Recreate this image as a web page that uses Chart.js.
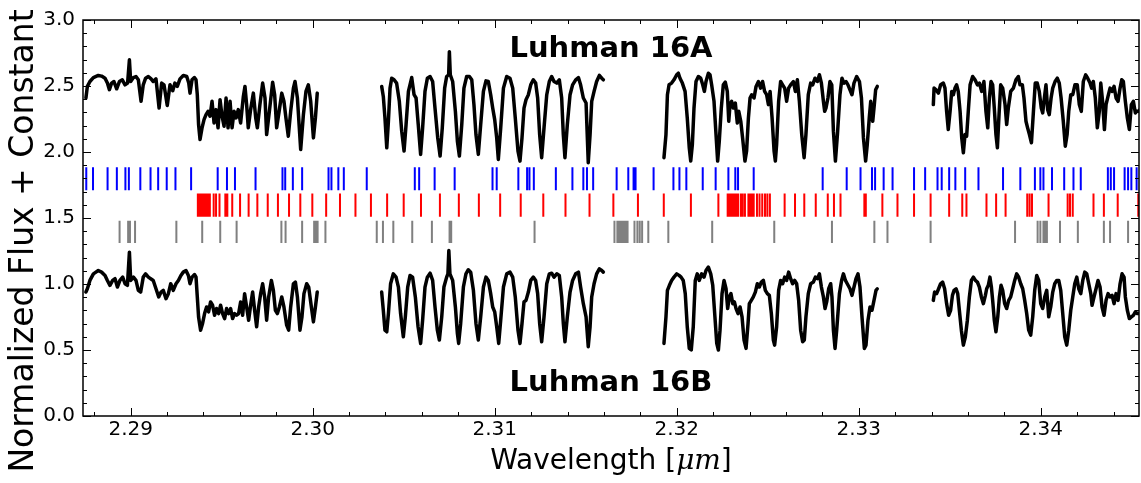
<!DOCTYPE html>
<html>
<head>
<meta charset="utf-8">
<script src="https://cdn.jsdelivr.net/npm/chart.js@4.4.1/dist/chart.umd.min.js"></script>
<style>
  body { margin: 0; background: #fff; }
  canvas { display: block; }
</style>
</head>
<body>
<canvas id="grafico" width="1141" height="483"></canvas>
<script>
// spectra: [wavelength (um), normalized flux + constant], one array per chip
const specA1 = [[2.28754,2.409],[2.28762,2.497],[2.28776,2.534],[2.28795,2.564],[2.28822,2.580],[2.28840,2.575],[2.28859,2.559],[2.28872,2.522],[2.28883,2.472],[2.28895,2.522],[2.28908,2.534],[2.28923,2.479],[2.28938,2.534],[2.28954,2.547],[2.28969,2.509],[2.28983,2.522],[2.28993,2.698],[2.29000,2.534],[2.29015,2.564],[2.29029,2.572],[2.29042,2.547],[2.29057,2.384],[2.29069,2.509],[2.29082,2.559],[2.29097,2.572],[2.29112,2.554],[2.29124,2.534],[2.29139,2.554],[2.29156,2.333],[2.29170,2.522],[2.29183,2.509],[2.29201,2.353],[2.29216,2.509],[2.29231,2.464],[2.29243,2.522],[2.29256,2.497],[2.29271,2.554],[2.29289,2.580],[2.29308,2.572],[2.29319,2.522],[2.29326,2.446],[2.29337,2.547],[2.29350,2.564],[2.29359,2.547],[2.29366,2.434],[2.29373,2.208],[2.29381,2.095],[2.29392,2.183],[2.29403,2.245],[2.29414,2.283],[2.29425,2.308],[2.29436,2.271],[2.29447,2.384],[2.29458,2.220],[2.29469,2.321],[2.29480,2.183],[2.29491,2.396],[2.29502,2.271],[2.29513,2.195],[2.29524,2.409],[2.29535,2.183],[2.29546,2.384],[2.29557,2.183],[2.29568,2.308],[2.29579,2.258],[2.29591,2.321],[2.29604,2.220],[2.29619,2.421],[2.29628,2.497],[2.29637,2.359],[2.29646,2.183],[2.29659,2.321],[2.29674,2.446],[2.29687,2.258],[2.29696,2.183],[2.29710,2.359],[2.29725,2.522],[2.29738,2.409],[2.29747,2.132],[2.29762,2.308],[2.29780,2.529],[2.29791,2.434],[2.29802,2.183],[2.29817,2.321],[2.29830,2.446],[2.29842,2.384],[2.29853,2.258],[2.29866,2.120],[2.29879,2.308],[2.29894,2.484],[2.29903,2.534],[2.29916,2.409],[2.29934,2.019],[2.29949,2.283],[2.29963,2.459],[2.29976,2.509],[2.29989,2.384],[2.30004,2.107],[2.30015,2.258],[2.30025,2.446]];
const specA2 = [[2.30379,2.497],[2.30388,2.421],[2.30397,2.258],[2.30407,2.032],[2.30416,2.233],[2.30425,2.484],[2.30434,2.559],[2.30447,2.547],[2.30461,2.522],[2.30476,2.384],[2.30489,2.158],[2.30502,2.007],[2.30513,2.208],[2.30526,2.459],[2.30544,2.564],[2.30557,2.434],[2.30568,2.409],[2.30580,2.208],[2.30593,1.982],[2.30604,2.183],[2.30617,2.459],[2.30630,2.559],[2.30645,2.572],[2.30659,2.534],[2.30672,2.333],[2.30687,2.107],[2.30700,1.969],[2.30712,2.183],[2.30725,2.484],[2.30736,2.572],[2.30747,2.585],[2.30751,2.760],[2.30756,2.585],[2.30769,2.534],[2.30784,2.308],[2.30795,2.082],[2.30806,1.969],[2.30819,2.208],[2.30831,2.484],[2.30846,2.572],[2.30861,2.572],[2.30874,2.547],[2.30886,2.359],[2.30897,2.132],[2.30910,1.982],[2.30923,2.208],[2.30938,2.459],[2.30952,2.539],[2.30965,2.534],[2.30978,2.434],[2.30989,2.333],[2.31000,2.245],[2.31011,2.107],[2.31020,1.944],[2.31033,2.183],[2.31048,2.484],[2.31066,2.572],[2.31084,2.559],[2.31099,2.484],[2.31113,2.258],[2.31128,2.007],[2.31139,1.931],[2.31150,2.107],[2.31161,2.333],[2.31172,2.396],[2.31185,2.434],[2.31198,2.509],[2.31212,2.547],[2.31225,2.522],[2.31236,2.409],[2.31247,2.132],[2.31258,1.957],[2.31271,2.183],[2.31286,2.434],[2.31300,2.534],[2.31313,2.572],[2.31326,2.534],[2.31341,2.522],[2.31355,2.547],[2.31368,2.409],[2.31377,2.132],[2.31386,1.957],[2.31399,2.208],[2.31414,2.434],[2.31428,2.509],[2.31445,2.547],[2.31460,2.564],[2.31472,2.509],[2.31487,2.409],[2.31502,2.371],[2.31514,1.919],[2.31524,2.132],[2.31533,2.384],[2.31546,2.459],[2.31560,2.534],[2.31575,2.580],[2.31588,2.559],[2.31597,2.547]];
const specA3 = [[2.31930,1.957],[2.31941,2.132],[2.31949,2.434],[2.31958,2.509],[2.31972,2.522],[2.31985,2.547],[2.32000,2.585],[2.32009,2.597],[2.32018,2.559],[2.32031,2.522],[2.32046,2.459],[2.32058,2.258],[2.32069,2.032],[2.32077,1.931],[2.32086,2.057],[2.32095,2.333],[2.32106,2.534],[2.32119,2.572],[2.32132,2.559],[2.32143,2.509],[2.32152,2.459],[2.32161,2.534],[2.32174,2.597],[2.32183,2.585],[2.32192,2.509],[2.32205,2.384],[2.32216,2.132],[2.32225,1.931],[2.32234,2.082],[2.32245,2.333],[2.32256,2.509],[2.32267,2.529],[2.32278,2.459],[2.32286,2.233],[2.32293,2.359],[2.32302,2.384],[2.32311,2.333],[2.32322,2.371],[2.32333,2.220],[2.32341,2.308],[2.32352,2.233],[2.32362,2.107],[2.32375,1.931],[2.32384,2.007],[2.32394,2.258],[2.32403,2.409],[2.32412,2.434],[2.32425,2.409],[2.32436,2.497],[2.32449,2.534],[2.32461,2.484],[2.32472,2.534],[2.32483,2.459],[2.32494,2.434],[2.32504,2.359],[2.32513,2.459],[2.32524,2.258],[2.32535,2.007],[2.32542,1.931],[2.32549,2.057],[2.32560,2.384],[2.32571,2.534],[2.32582,2.509],[2.32593,2.484],[2.32604,2.384],[2.32615,2.484],[2.32626,2.509],[2.32641,2.534],[2.32652,2.459],[2.32663,2.547],[2.32674,2.384],[2.32687,2.132],[2.32700,1.957],[2.32710,2.132],[2.32723,2.434],[2.32736,2.522],[2.32747,2.509],[2.32760,2.559],[2.32773,2.534],[2.32784,2.585],[2.32795,2.522],[2.32806,2.384],[2.32813,2.308],[2.32820,2.333],[2.32831,2.409],[2.32842,2.534],[2.32852,2.509],[2.32861,2.158],[2.32872,1.931],[2.32883,2.132],[2.32897,2.434],[2.32908,2.559],[2.32919,2.522],[2.32930,2.534],[2.32941,2.509],[2.32952,2.471],[2.32963,2.434],[2.32974,2.522],[2.32989,2.572],[2.33004,2.534],[2.33015,2.409],[2.33026,2.107],[2.33038,1.931],[2.33047,2.057],[2.33058,2.258],[2.33066,2.384],[2.33077,2.233],[2.33084,2.333],[2.33093,2.471],[2.33102,2.497]];
const specA4 = [[2.33410,2.359],[2.33414,2.484],[2.33425,2.471],[2.33438,2.446],[2.33450,2.509],[2.33465,2.522],[2.33474,2.484],[2.33483,2.308],[2.33492,2.170],[2.33502,2.308],[2.33511,2.459],[2.33520,2.434],[2.33529,2.484],[2.33538,2.509],[2.33547,2.459],[2.33557,2.308],[2.33566,2.107],[2.33575,1.994],[2.33584,2.132],[2.33593,2.120],[2.33602,2.308],[2.33612,2.509],[2.33626,2.572],[2.33639,2.547],[2.33652,2.509],[2.33663,2.522],[2.33676,2.459],[2.33688,2.534],[2.33699,2.308],[2.33709,2.183],[2.33718,2.409],[2.33727,2.534],[2.33736,2.509],[2.33745,2.333],[2.33754,2.132],[2.33762,2.032],[2.33771,2.283],[2.33780,2.509],[2.33791,2.484],[2.33804,2.359],[2.33813,2.208],[2.33822,2.333],[2.33835,2.459],[2.33850,2.484],[2.33864,2.547],[2.33877,2.572],[2.33886,2.509],[2.33899,2.509],[2.33908,2.409],[2.33919,2.233],[2.33928,2.183],[2.33938,2.132],[2.33949,2.070],[2.33960,2.308],[2.33970,2.522],[2.33981,2.522],[2.33992,2.459],[2.34003,2.333],[2.34011,2.296],[2.34018,2.384],[2.34029,2.509],[2.34038,2.321],[2.34047,2.283],[2.34057,2.409],[2.34066,2.484],[2.34079,2.534],[2.34091,2.559],[2.34102,2.522],[2.34112,2.409],[2.34124,2.233],[2.34135,2.044],[2.34145,2.132],[2.34154,2.308],[2.34165,2.434],[2.34176,2.434],[2.34188,2.509],[2.34201,2.509],[2.34212,2.359],[2.34223,2.308],[2.34234,2.534],[2.34247,2.585],[2.34258,2.559],[2.34271,2.522],[2.34280,2.484],[2.34289,2.534],[2.34300,2.409],[2.34311,2.183],[2.34322,2.308],[2.34330,2.522],[2.34340,2.384],[2.34350,2.170],[2.34359,2.359],[2.34372,2.434],[2.34381,2.484],[2.34392,2.459],[2.34403,2.497],[2.34414,2.409],[2.34425,2.384],[2.34436,2.484],[2.34445,2.547],[2.34454,2.534],[2.34465,2.384],[2.34476,2.258],[2.34487,2.170],[2.34498,2.359],[2.34509,2.384],[2.34520,2.296],[2.34527,2.308],[2.34536,2.308],[2.34546,2.321]];

const specB1 = [[2.28754,0.939],[2.28762,0.964],[2.28776,1.027],[2.28795,1.077],[2.28822,1.102],[2.28840,1.090],[2.28859,1.065],[2.28872,1.027],[2.28886,0.990],[2.28901,1.027],[2.28914,1.040],[2.28927,0.977],[2.28941,1.027],[2.28956,1.052],[2.28969,1.002],[2.28982,0.990],[2.28993,1.241],[2.29000,1.027],[2.29015,1.052],[2.29029,1.027],[2.29042,0.952],[2.29055,0.939],[2.29069,1.052],[2.29082,1.077],[2.29097,1.052],[2.29110,1.040],[2.29124,1.027],[2.29139,0.964],[2.29154,0.902],[2.29167,0.939],[2.29179,0.952],[2.29194,0.889],[2.29207,0.927],[2.29220,1.002],[2.29234,0.952],[2.29249,1.002],[2.29262,1.027],[2.29276,1.065],[2.29289,1.090],[2.29304,1.102],[2.29317,1.065],[2.29326,1.002],[2.29337,1.052],[2.29351,1.072],[2.29359,1.052],[2.29366,0.902],[2.29373,0.751],[2.29384,0.650],[2.29395,0.701],[2.29406,0.776],[2.29417,0.826],[2.29428,0.789],[2.29439,0.864],[2.29450,0.839],[2.29461,0.763],[2.29472,0.814],[2.29483,0.776],[2.29494,0.839],[2.29505,0.776],[2.29516,0.738],[2.29527,0.814],[2.29538,0.776],[2.29549,0.814],[2.29560,0.738],[2.29571,0.776],[2.29582,0.763],[2.29593,0.776],[2.29604,0.864],[2.29615,0.763],[2.29626,0.927],[2.29637,0.826],[2.29648,0.726],[2.29659,0.839],[2.29670,0.939],[2.29681,0.801],[2.29692,0.676],[2.29703,0.826],[2.29714,0.927],[2.29725,1.002],[2.29736,0.902],[2.29747,0.726],[2.29758,0.902],[2.29773,1.027],[2.29784,0.952],[2.29795,0.801],[2.29806,0.776],[2.29817,0.826],[2.29830,0.902],[2.29842,0.826],[2.29857,0.688],[2.29868,0.650],[2.29879,0.826],[2.29894,1.002],[2.29905,1.015],[2.29916,0.902],[2.29930,0.650],[2.29941,0.751],[2.29952,0.927],[2.29967,1.002],[2.29978,0.977],[2.29989,0.864],[2.30004,0.713],[2.30015,0.826],[2.30025,0.939]];
const specB2 = [[2.30379,0.939],[2.30388,0.801],[2.30397,0.650],[2.30407,0.638],[2.30416,0.776],[2.30428,1.002],[2.30443,1.077],[2.30458,1.052],[2.30471,0.977],[2.30483,0.776],[2.30498,0.600],[2.30509,0.751],[2.30522,0.977],[2.30535,1.065],[2.30549,1.052],[2.30564,0.902],[2.30579,0.676],[2.30593,0.550],[2.30604,0.726],[2.30617,0.977],[2.30630,1.052],[2.30645,1.082],[2.30659,1.027],[2.30672,0.826],[2.30685,0.650],[2.30696,0.575],[2.30709,0.751],[2.30721,0.977],[2.30736,1.052],[2.30743,1.077],[2.30748,1.253],[2.30754,1.077],[2.30769,1.027],[2.30784,0.826],[2.30795,0.625],[2.30802,0.550],[2.30813,0.701],[2.30828,0.977],[2.30842,1.077],[2.30855,1.108],[2.30868,1.090],[2.30883,0.952],[2.30897,0.701],[2.30910,0.575],[2.30923,0.751],[2.30938,0.977],[2.30952,1.052],[2.30965,1.027],[2.30978,0.927],[2.30989,0.826],[2.31000,0.789],[2.31011,0.676],[2.31022,0.550],[2.31033,0.726],[2.31048,0.977],[2.31066,1.077],[2.31084,1.090],[2.31099,1.052],[2.31113,0.902],[2.31128,0.650],[2.31139,0.550],[2.31150,0.701],[2.31161,0.864],[2.31172,0.876],[2.31185,0.939],[2.31198,1.027],[2.31212,1.052],[2.31225,1.027],[2.31236,0.927],[2.31247,0.701],[2.31258,0.562],[2.31271,0.751],[2.31286,1.002],[2.31300,1.077],[2.31313,1.082],[2.31326,1.052],[2.31341,1.077],[2.31355,1.065],[2.31368,0.902],[2.31377,0.701],[2.31386,0.562],[2.31399,0.751],[2.31414,0.939],[2.31428,1.027],[2.31445,1.077],[2.31460,1.090],[2.31472,0.977],[2.31487,0.851],[2.31502,0.751],[2.31514,0.525],[2.31524,0.676],[2.31533,0.902],[2.31546,1.002],[2.31560,1.077],[2.31575,1.115],[2.31588,1.102],[2.31597,1.090]];
const specB3 = [[2.31930,0.550],[2.31941,0.751],[2.31949,0.952],[2.31960,0.990],[2.31972,1.027],[2.31985,1.052],[2.32000,1.077],[2.32013,1.065],[2.32024,1.052],[2.32036,1.027],[2.32047,0.927],[2.32058,0.676],[2.32069,0.512],[2.32080,0.500],[2.32091,0.676],[2.32102,1.027],[2.32113,1.077],[2.32124,1.027],[2.32137,1.077],[2.32150,1.052],[2.32161,1.102],[2.32174,1.128],[2.32187,1.077],[2.32198,0.990],[2.32210,0.751],[2.32220,0.550],[2.32229,0.500],[2.32238,0.650],[2.32249,0.927],[2.32260,1.027],[2.32271,0.964],[2.32280,0.814],[2.32289,0.902],[2.32298,0.927],[2.32308,0.851],[2.32317,0.864],[2.32326,0.814],[2.32337,0.776],[2.32348,0.826],[2.32359,0.751],[2.32370,0.575],[2.32381,0.512],[2.32392,0.701],[2.32399,0.851],[2.32410,0.876],[2.32421,0.902],[2.32432,0.939],[2.32443,1.002],[2.32454,0.977],[2.32465,1.015],[2.32476,1.027],[2.32487,0.952],[2.32498,0.927],[2.32509,0.914],[2.32520,0.776],[2.32531,0.575],[2.32538,0.537],[2.32549,0.676],[2.32560,0.952],[2.32571,1.027],[2.32582,1.002],[2.32593,1.052],[2.32604,1.027],[2.32615,1.090],[2.32626,1.040],[2.32637,1.002],[2.32648,1.027],[2.32659,1.002],[2.32670,0.876],[2.32681,0.650],[2.32692,0.562],[2.32701,0.575],[2.32710,0.751],[2.32723,0.927],[2.32736,1.002],[2.32751,1.015],[2.32762,1.052],[2.32773,1.040],[2.32784,1.077],[2.32795,0.977],[2.32806,0.902],[2.32815,0.814],[2.32824,0.864],[2.32835,0.964],[2.32846,1.002],[2.32853,0.902],[2.32861,0.650],[2.32870,0.512],[2.32879,0.650],[2.32894,0.927],[2.32906,1.027],[2.32916,1.077],[2.32927,1.027],[2.32937,1.002],[2.32952,0.964],[2.32963,0.914],[2.32974,0.977],[2.32985,1.040],[2.32996,1.077],[2.33007,0.977],[2.33018,0.751],[2.33031,0.512],[2.33040,0.537],[2.33051,0.726],[2.33062,0.826],[2.33073,0.801],[2.33084,0.876],[2.33095,0.952],[2.33102,0.964]];
const specB4 = [[2.33410,0.876],[2.33417,0.939],[2.33428,0.927],[2.33439,0.964],[2.33450,1.002],[2.33461,1.015],[2.33472,0.964],[2.33483,0.851],[2.33494,0.763],[2.33505,0.801],[2.33515,0.914],[2.33524,0.952],[2.33535,0.964],[2.33544,0.927],[2.33553,0.801],[2.33564,0.650],[2.33575,0.537],[2.33586,0.600],[2.33597,0.726],[2.33608,0.902],[2.33619,1.027],[2.33630,1.052],[2.33641,1.027],[2.33652,1.015],[2.33663,0.977],[2.33674,0.902],[2.33685,0.851],[2.33696,0.914],[2.33703,0.964],[2.33712,0.990],[2.33721,1.052],[2.33729,0.977],[2.33736,0.876],[2.33745,0.726],[2.33754,0.638],[2.33764,0.751],[2.33773,0.902],[2.33782,0.990],[2.33791,0.952],[2.33802,0.851],[2.33813,0.814],[2.33824,0.876],[2.33835,0.902],[2.33846,0.964],[2.33857,1.027],[2.33868,1.077],[2.33879,1.052],[2.33890,1.002],[2.33901,0.964],[2.33912,0.876],[2.33923,0.776],[2.33934,0.650],[2.33945,0.613],[2.33956,0.751],[2.33967,0.952],[2.33978,1.065],[2.33989,1.027],[2.34000,0.851],[2.34011,0.814],[2.34022,0.902],[2.34033,0.952],[2.34044,0.751],[2.34055,0.826],[2.34066,0.939],[2.34077,1.002],[2.34088,1.027],[2.34099,1.027],[2.34110,0.952],[2.34121,0.776],[2.34132,0.600],[2.34143,0.537],[2.34154,0.650],[2.34165,0.801],[2.34176,0.902],[2.34187,1.002],[2.34198,1.052],[2.34209,0.964],[2.34220,0.927],[2.34231,1.027],[2.34242,1.090],[2.34253,1.077],[2.34264,1.002],[2.34275,0.927],[2.34282,0.839],[2.34293,0.902],[2.34304,0.964],[2.34315,1.027],[2.34326,0.977],[2.34337,0.826],[2.34348,0.763],[2.34359,0.876],[2.34370,0.927],[2.34381,0.902],[2.34392,0.914],[2.34403,0.851],[2.34414,0.927],[2.34425,0.876],[2.34436,1.002],[2.34447,1.077],[2.34458,1.052],[2.34465,0.902],[2.34476,0.801],[2.34487,0.738],[2.34498,0.751],[2.34509,0.763],[2.34520,0.789],[2.34531,0.776],[2.34546,0.776]];

// line lists (wavelengths, um) and the flux band each row of marks covers
const blueLines = [2.28756,2.28793,2.28873,2.28924,2.28971,2.28990,2.29053,2.29109,2.29151,2.29198,2.29246,2.29332,2.29478,2.29529,2.29573,2.29686,2.29834,2.29849,2.29891,2.29942,2.30087,2.30103,2.30141,2.30171,2.30297,2.30561,2.30585,2.30670,2.30780,2.30988,2.31011,2.31130,2.31178,2.31191,2.31215,2.31336,2.31427,2.31487,2.31507,2.31541,2.31670,2.31734,2.31763,2.31774,2.31873,2.31982,2.32015,2.32053,2.32143,2.32214,2.32284,2.32322,2.32337,2.32423,2.32802,2.32934,2.33010,2.33073,2.33090,2.33137,2.33186,2.33304,2.33365,2.33433,2.33456,2.33497,2.33531,2.33585,2.33658,2.33793,2.33888,2.33968,2.33998,2.34015,2.34062,2.34129,2.34180,2.34220,2.34369,2.34385,2.34403,2.34461,2.34480,2.34498,2.34527];
const redLines = [2.29369,2.29378,2.29387,2.29397,2.29407,2.29416,2.29425,2.29435,2.29456,2.29469,2.29488,2.29520,2.29531,2.29558,2.29601,2.29648,2.29696,2.29753,2.29809,2.29870,2.29932,2.29998,2.30074,2.30150,2.30235,2.30320,2.30409,2.30500,2.30595,2.30699,2.30803,2.30913,2.31030,2.31143,2.31267,2.31389,2.31521,2.31652,2.31787,2.31929,2.32078,2.32229,2.32280,2.32289,2.32300,2.32309,2.32318,2.32328,2.32337,2.32352,2.32363,2.32375,2.32394,2.32403,2.32413,2.32423,2.32441,2.32455,2.32470,2.32485,2.32498,2.32512,2.32593,2.32650,2.32701,2.32764,2.32830,2.32864,2.32900,2.33031,2.33039,2.33130,2.33213,2.33304,2.33395,2.33497,2.33569,2.33592,2.33702,2.33755,2.33807,2.33926,2.33939,2.33952,2.34043,2.34148,2.34161,2.34176,2.34290,2.34347,2.34423,2.34536];
const grayLines = [2.28939,2.28986,2.28996,2.29024,2.29251,2.29393,2.29492,2.29582,2.29828,2.29851,2.29942,2.30008,2.30018,2.30027,2.30070,2.30352,2.30386,2.30443,2.30547,2.30655,2.30752,2.30761,2.31219,2.31658,2.31674,2.31683,2.31692,2.31702,2.31712,2.31721,2.31730,2.31768,2.31784,2.31797,2.31810,2.31844,2.31954,2.32195,2.32536,2.32853,2.33086,2.33158,2.33395,2.33859,2.33983,2.33998,2.34015,2.34024,2.34034,2.34106,2.34204,2.34347,2.34381,2.34480];
const blueBand = [1.71, 1.885];
const redBand = [1.51, 1.685];
const grayBand = [1.31, 1.48];

// axes
const xTicks = [2.29, 2.30, 2.31, 2.32, 2.33, 2.34];
const yTicks = [0.0, 0.5, 1.0, 1.5, 2.0, 2.5, 3.0];
const xRange = [2.28738, 2.34540];
const yRange = [0, 3];

const FONTE = 'DejaVu Sans';

function linhasDeMarcas(lista, faixa) {
    // each line becomes a vertical segment, separated by a gap
    return lista.flatMap(l => [{ x: l, y: faixa[0] }, { x: l, y: faixa[1] }, { x: l, y: null }]);
}

function espectro(seg) {
    return {
        data: seg.map(([x, y]) => ({ x, y })),
        borderColor: '#000',
        borderWidth: 3.5,
        pointRadius: 0,
        tension: 0,
        borderJoinStyle: 'round',
        borderCapStyle: 'round'
    };
}

function marcas(lista, faixa, cor) {
    return {
        data: linhasDeMarcas(lista, faixa),
        borderColor: cor,
        borderWidth: 2,
        pointRadius: 0,
        spanGaps: false,
        borderCapStyle: 'butt'
    };
}

// frame with inward ticks, axis titles and the two labels
const moldura = {
    id: 'moldura',
    afterDraw(chart) {
        const { ctx, chartArea: a, scales: { x, y } } = chart;
        ctx.save();
        ctx.strokeStyle = '#000';
        ctx.lineWidth = 1;
        ctx.beginPath();
        for (let i = 0; i <= 30; i++) {
            const py = Math.round(y.getPixelForValue(i / 10)) + 0.5;
            const len = i % 5 === 0 ? 8 : 4;
            ctx.moveTo(a.left, py); ctx.lineTo(a.left + len, py);
            ctx.moveTo(a.right, py); ctx.lineTo(a.right - len, py);
        }
        for (let i = 1144; i <= 1173; i++) {
            const v = i * 0.002;
            if (v < x.min || v > x.max) continue;
            const px = Math.round(x.getPixelForValue(v)) + 0.5;
            const len = i % 5 === 0 ? 8 : 4;
            ctx.moveTo(px, a.bottom); ctx.lineTo(px, a.bottom - len);
            ctx.moveTo(px, a.top); ctx.lineTo(px, a.top + len);
        }
        ctx.stroke();
        ctx.lineWidth = 1.5;
        ctx.strokeRect(a.left, a.top, a.right - a.left, a.bottom - a.top);

        ctx.fillStyle = '#000';
        ctx.textBaseline = 'middle';
        ctx.textAlign = 'center';

        // star names
        ctx.font = 'bold 29px "' + FONTE + '"';
        const cx = (a.left + a.right) / 2;
        ctx.fillText('Luhman 16A', cx, y.getPixelForValue(2.775));
        ctx.fillText('Luhman 16B', cx, y.getPixelForValue(0.25));

        // y title
        ctx.save();
        ctx.translate(24, 241);
        ctx.rotate(-Math.PI / 2);
        ctx.font = '33px "' + FONTE + '"';
        ctx.fillText('Normalized Flux + Constant', 0, 0);
        ctx.restore();

        // x title with italic mu m
        const partes = [
            ['Wavelength [', '28px "' + FONTE + '"'],
            ['\u03bcm', 'italic 28px "DejaVu Serif"'],
            [']', '28px "' + FONTE + '"']
        ];
        let total = 0;
        partes.forEach(([t, f]) => { ctx.font = f; total += ctx.measureText(t).width; });
        let px = cx - total / 2;
        ctx.textAlign = 'left';
        partes.forEach(([t, f]) => {
            ctx.font = f;
            ctx.fillText(t, px, 462);
            px += ctx.measureText(t).width;
        });
        ctx.restore();
    }
};

new Chart(document.getElementById('grafico'), {
    type: 'line',
    data: {
        datasets: [
            espectro(specA1), espectro(specA2), espectro(specA3), espectro(specA4),
            espectro(specB1), espectro(specB2), espectro(specB3), espectro(specB4),
            marcas(blueLines, blueBand, '#0000ff'),
            marcas(redLines, redBand, '#ff0000'),
            marcas(grayLines, grayBand, '#808080')
        ]
    },
    options: {
        responsive: false,
        devicePixelRatio: 1,
        animation: false,
        layout: { padding: { top: 18, right: 2, left: 0, bottom: 0 } },
        plugins: { legend: { display: false }, tooltip: { enabled: false } },
        scales: {
            x: {
                type: 'linear',
                min: xRange[0],
                max: xRange[1],
                grid: { display: false, drawTicks: false },
                border: { display: false },
                ticks: {
                    font: { family: FONTE, size: 20 },
                    color: '#000',
                    padding: 2,
                    maxRotation: 0,
                    callback: v => v.toFixed(2)
                },
                afterBuildTicks: s => { s.ticks = xTicks.map(v => ({ value: v })); },
                afterFit: s => { s.height = 67; }
            },
            y: {
                type: 'linear',
                min: yRange[0],
                max: yRange[1],
                grid: { display: false, drawTicks: false },
                border: { display: false },
                ticks: {
                    font: { family: FONTE, size: 20 },
                    color: '#000',
                    padding: 8,
                    callback: v => v.toFixed(1)
                },
                afterBuildTicks: s => { s.ticks = yTicks.map(v => ({ value: v })); },
                afterFit: s => { s.width = 83; }
            }
        }
    },
    plugins: [moldura]
});
</script>
</body>
</html>
